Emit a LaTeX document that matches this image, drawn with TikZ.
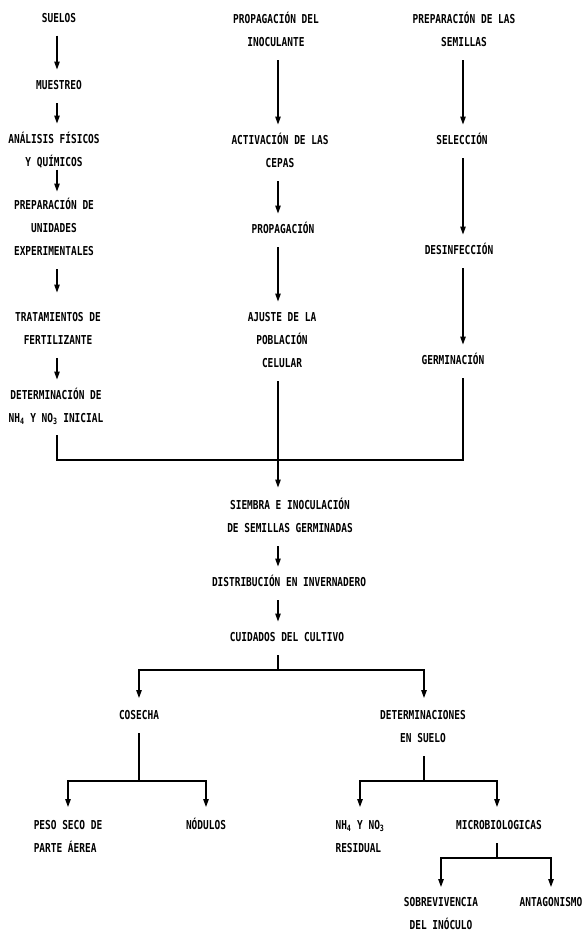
\documentclass[tikz,border=0pt]{standalone}
\usepackage{fontspec}
\usetikzlibrary{arrows.meta}
\newfontfamily\flowfont{DejaVu Sans Mono}[FakeStretch=0.77]
\tikzset{stage/.style={font=\flowfont\bfseries\fontsize{12.3pt}{23pt}\selectfont,
    inner sep=0pt,text height=9pt,align=center,anchor=north},
  twoline/.style={text height=32pt},
  threeline/.style={text height=55pt},
  flowline/.style={line width=1.2pt,shorten <=13pt},
  flowarrow/.style={flowline,-{Triangle[length=8pt,width=5.5pt]},shorten >=11pt}}

\begin{document}
\begin{tikzpicture}[x=1pt,y=-1pt]
    \useasboundingbox (0,0) rectangle (584,932);
    % column axes and junctions
    \coordinate (c1) at (57,0);
    \coordinate (c2) at (278,0);
    \coordinate (c3) at (463,0);
    \coordinate (merge) at (278,460);
    \coordinate (fork1) at (278,670);
    \coordinate (fork2) at (139,781);
    \coordinate (fork3) at (424,781);
    \coordinate (fork4) at (497,858);

    % soil column
    \node[stage] (suelos) at (59,13) {SUELOS};
    \node[stage] (muestreo) at (59,80.5) {MUESTREO};
    \node[stage,twoline] (analisis) at (54,134.5) {ANÁLISIS FÍSICOS\\Y QUÍMICOS};
    \node[stage,threeline] (prepunid) at (54,200.5) {PREPARACIÓN DE\\UNIDADES\\EXPERIMENTALES};
    \node[stage,twoline] (tratam) at (58,312.5) {TRATAMIENTOS DE\\FERTILIZANTE};
    \node[stage,twoline] (detini) at (56,390.5)
      {DETERMINACIÓN DE\\NH\textsubscript{4} Y NO\textsubscript{3} INICIAL};

    % inoculant column
    \node[stage,twoline] (propinoc) at (276,14.5) {PROPAGACIÓN DEL\\INOCULANTE};
    \node[stage,twoline] (activ) at (280,135.5) {ACTIVACIÓN DE LAS\\CEPAS};
    \node[stage] (propag) at (283,224.5) {PROPAGACIÓN};
    \node[stage,threeline] (ajuste) at (282,312.5) {AJUSTE DE LA\\POBLACIÓN\\CELULAR};

    % seed column
    \node[stage,twoline] (prepsem) at (464,14.5) {PREPARACIÓN DE LAS\\SEMILLAS};
    \node[stage] (selec) at (462,135.5) {SELECCIÓN};
    \node[stage] (desinf) at (459,245.5) {DESINFECCIÓN};
    \node[stage] (germ) at (453,355.5) {GERMINACIÓN};

    % common trunk
    \node[stage,twoline] (siembra) at (290,500.5) {SIEMBRA E INOCULACIÓN\\DE SEMILLAS GERMINADAS};
    \node[stage] (distrib) at (289,577.5) {DISTRIBUCIÓN EN INVERNADERO};
    \node[stage] (cuidados) at (287,632.5) {CUIDADOS DEL CULTIVO};

    % branches
    \node[stage] (cosecha) at (139,710.5) {COSECHA};
    \node[stage,twoline] (detsuelo) at (423,710.5) {DETERMINACIONES\\EN SUELO};
    \node[stage,twoline,align=left] (peso) at (68,820.5) {PESO SECO DE\\PARTE ÁEREA};
    \node[stage] (nodulos) at (206,820.5) {NÓDULOS};
    \node[stage,twoline,align=left] (nhres) at (360,820.5)
      {NH\textsubscript{4} Y NO\textsubscript{3}\\RESIDUAL};
    \node[stage] (micro) at (499,820.5) {MICROBIOLOGICAS};
    \node[stage,twoline] (sobre) at (441,897) {SOBREVIVENCIA\\DEL INÓCULO};
    \node[stage] (antag) at (551,897) {ANTAGONISMO};

    % connectors
    \draw[flowarrow] (suelos.south -| c1) -- (muestreo.north -| c1);
    \draw[flowarrow] (muestreo.south -| c1) -- (analisis.north -| c1);
    \draw[flowarrow,shorten <=1pt,shorten >=9pt] (analisis.south -| c1) -- (prepunid.north -| c1);
    \draw[flowarrow,shorten >=20pt] (prepunid.south -| c1) -- (tratam.north -| c1);
    \draw[flowarrow] (tratam.south -| c1) -- (detini.north -| c1);
    \draw[flowline,shorten <=10pt] (detini.south -| c1) |- (merge);

    \draw[flowarrow] (propinoc.south -| c2) -- (activ.north -| c2);
    \draw[flowarrow] (activ.south -| c2) -- (propag.north -| c2);
    \draw[flowarrow] (propag.south -| c2) -- (ajuste.north -| c2);
    \draw[flowline] (ajuste.south -| c2) -- (merge);

    \draw[flowarrow] (prepsem.south -| c3) -- (selec.north -| c3);
    \draw[flowarrow] (selec.south -| c3) -- (desinf.north -| c3);
    \draw[flowarrow] (desinf.south -| c3) -- (germ.north -| c3);
    \draw[flowline] (germ.south -| c3) |- (merge);

    \draw[flowarrow,shorten <=0pt,shorten >=13pt] (merge) -- (siembra.north -| merge);
    \draw[flowarrow] (siembra.south -| merge) -- (distrib.north -| merge);
    \draw[flowarrow] (distrib.south -| merge) -- (cuidados.north -| merge);
    \draw[flowline] (cuidados.south -| merge) -- (fork1);
    \draw[flowarrow,shorten <=0pt,shorten >=12.5pt] (fork1) -| (cosecha.north);
    \draw[flowarrow,shorten <=0pt,shorten >=12.5pt] (fork1) -| (detsuelo.north -| fork3);

    \draw[flowline] (cosecha.south) -- (fork2);
    \draw[flowarrow,shorten <=0pt,shorten >=13.5pt] (fork2) -| (peso.north);
    \draw[flowarrow,shorten <=0pt,shorten >=13.5pt] (fork2) -| (nodulos.north);
    \draw[flowline] (detsuelo.south -| fork3) -- (fork3);
    \draw[flowarrow,shorten <=0pt,shorten >=13.5pt] (fork3) -| (nhres.north);
    \draw[flowarrow,shorten <=0pt,shorten >=13.5pt] (fork3) -| (micro.north -| fork4);
    \draw[flowline] (micro.south -| fork4) -- (fork4);
    \draw[flowarrow,shorten <=0pt,shorten >=10pt] (fork4) -| (sobre.north);
    \draw[flowarrow,shorten <=0pt,shorten >=10pt] (fork4) -| (antag.north);
\end{tikzpicture}
\end{document}
